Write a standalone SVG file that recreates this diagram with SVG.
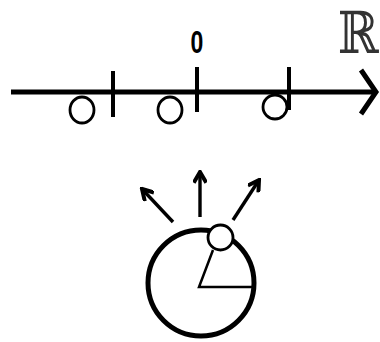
<svg xmlns="http://www.w3.org/2000/svg" width="380" height="342" viewBox="0 0 380 342">
<defs>
<style>
.thick{stroke:#000;stroke-width:5;fill:none;stroke-linecap:butt}
.tick{stroke:#000;stroke-width:4;fill:none}
.open{stroke:#000;stroke-width:2.8;fill:#fff}
.arr{stroke:#000;stroke-width:3.4;fill:none}
</style>
<marker id="head" viewBox="0 0 10 10" refX="8.5" refY="5" markerWidth="4.2" markerHeight="4.2" orient="auto" markerUnits="strokeWidth">
<path d="M1,0.6 L8.5,5 L1,9.4" fill="none" stroke="#000" stroke-width="2.8"/>
</marker>
</defs>
<rect width="380" height="342" fill="#fff"/>
<g id="axis">
<line class="thick" x1="11" y1="92" x2="376" y2="92"/>
<polyline class="thick" points="361,70 376,92 361,114" stroke-linejoin="miter"/>
</g>
<g id="ticks">
<line class="tick" x1="113" y1="71" x2="113" y2="117"/>
<line class="tick" x1="197" y1="67" x2="197" y2="112"/>
<line class="tick" x1="289" y1="67" x2="289" y2="110"/>
</g>
<g id="points">
<ellipse class="open" cx="82" cy="110" rx="12" ry="13"/>
<ellipse class="open" cx="170" cy="110" rx="12" ry="13"/>
<ellipse class="open" cx="275" cy="107" rx="12" ry="12"/>
</g>
<g id="labels">
<text x="197" y="53" font-family="Liberation Sans, sans-serif" font-weight="bold" font-size="32" text-anchor="middle" transform="translate(197 0) scale(0.72 1) translate(-197 0)">0</text>
<text x="358" y="53" font-family="DejaVu Serif, serif" font-size="58" fill="#333" text-anchor="middle" transform="translate(358 0) scale(0.85 1) translate(-358 0)">ℝ</text>
</g>
<g id="wheel">
<circle cx="201" cy="283" r="53" stroke="#000" stroke-width="5" fill="none"/>
<polyline points="213,250 199,287 254,287" stroke="#000" stroke-width="2.5" fill="none"/>
<circle cx="220.5" cy="237.5" r="12.5" class="open"/>
</g>
<g id="connectors">
<line class="arr" x1="173" y1="222" x2="142" y2="189" marker-end="url(#head)"/>
<line class="arr" x1="200" y1="217" x2="200" y2="172" marker-end="url(#head)"/>
<line class="arr" x1="233" y1="220" x2="259" y2="180" marker-end="url(#head)"/>
</g>
</svg>
